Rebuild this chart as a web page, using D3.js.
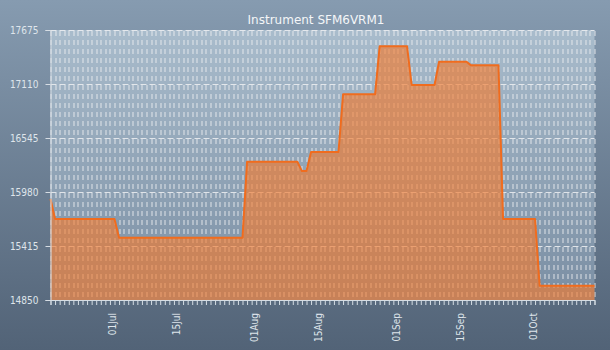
<!DOCTYPE html>
<html>
<head>
<meta charset="utf-8">
<script src="https://cdn.jsdelivr.net/npm/d3@7"></script>
<style>
  html, body { margin: 0; padding: 0; background: #6d8196; }
  svg { display: block; }
</style>
</head>
<body>
<svg id="chart" width="610" height="350"></svg>
<script>
// ---- data ----
const chartTitle = "Instrument SFM6VRM1";
const startDate = "2019-06-17";
const values = [
  15906,
  15697, 15697, 15697, 15697, 15697, 15697, 15697, 15697, 15697, 15697, 15697, 15697, 15697, 15697,
  15502, 15502, 15502, 15502, 15502, 15502, 15502, 15502, 15502, 15502, 15502, 15502, 15502, 15502,
  15502, 15502, 15502, 15502, 15502, 15502, 15502, 15502, 15502, 15502, 15502, 15502, 15502, 15502,
  16297, 16297, 16297, 16297, 16297, 16297, 16297, 16297, 16297, 16297, 16297, 16297,
  16199, 16199,
  16398, 16398, 16398, 16398, 16398, 16398, 16398,
  17002, 17002, 17002, 17002, 17002, 17002, 17002, 17002,
  17504, 17504, 17504, 17504, 17504, 17504, 17504,
  17100, 17100, 17100, 17100, 17100, 17100,
  17343, 17343, 17343, 17343, 17343, 17343, 17343,
  17305, 17305, 17305, 17305, 17305, 17305, 17305,
  15697, 15697, 15697, 15697, 15697, 15697, 15697, 15697,
  15000, 15000, 15000, 15000, 15000, 15000, 15000, 15000, 15000, 15000, 15000, 15000, 15000
];
const yTicks = [14850, 15415, 15980, 16545, 17110, 17675];
const xTickLabels = ["2019-07-01", "2019-07-15", "2019-08-01", "2019-08-15", "2019-09-01", "2019-09-15", "2019-10-01"];

// ---- build ----
const parse = d3.utcParse("%Y-%m-%d");
const start = d3.utcHour.offset(parse(startDate), 12);
const data = values.map((v, i) => ({ date: d3.utcDay.offset(start, i), value: v }));

const svg = d3.select("#chart");
const W = 610, H = 350;
const m = { left: 50.5, right: 15.5, top: 30, bottom: 50 };
const iw = W - m.left - m.right, ih = H - m.top - m.bottom;

const defs = svg.append("defs");
const bg = defs.append("linearGradient").attr("id", "bg").attr("x1", 0).attr("y1", 0).attr("x2", 0).attr("y2", 1);
bg.append("stop").attr("offset", "0%").attr("stop-color", "#869bb0");
bg.append("stop").attr("offset", "100%").attr("stop-color", "#526377");
const pbg = defs.append("linearGradient").attr("id", "pbg").attr("x1", 0).attr("y1", 0).attr("x2", 0).attr("y2", 1);
pbg.append("stop").attr("offset", "0%").attr("stop-color", "#a9bccc");
pbg.append("stop").attr("offset", "100%").attr("stop-color", "#7a8ea3");

svg.append("rect").attr("width", W).attr("height", H).attr("fill", "url(#bg)");

const x = d3.scaleUtc().domain(d3.extent(data, d => d.date)).range([0, iw]);
const y = d3.scaleLinear().domain([14850, 17675]).range([ih, 0]);

const g = svg.append("g").attr("transform", `translate(${m.left},${m.top})`);

g.append("rect").attr("x", 0).attr("y", 0).attr("width", iw).attr("height", ih).attr("fill", "url(#pbg)");

// vertical daily gridlines
g.append("g").selectAll("line").data(data).join("line")
  .attr("x1", d => Math.round(x(d.date)) + 0.5).attr("x2", d => Math.round(x(d.date)) + 0.5)
  .attr("y1", 0).attr("y2", ih)
  .attr("stroke", "#eef0f2").attr("stroke-opacity", 0.85).attr("stroke-width", 1)
  .attr("stroke-dasharray", "5,4").attr("stroke-dashoffset", -1);

// horizontal gridlines
g.append("g").selectAll("line").data(yTicks.slice(1)).join("line")
  .attr("x1", 0).attr("x2", iw)
  .attr("y1", d => Math.round(y(d)) + 0.5).attr("y2", d => Math.round(y(d)) + 0.5)
  .attr("stroke", "#eef0f2").attr("stroke-opacity", 0.85).attr("stroke-width", 1)
  .attr("stroke-dasharray", "6,3");

// area
const area = d3.area().x(d => x(d.date)).y0(ih).y1(d => y(d.value));
g.append("path").datum(data).attr("d", area).attr("fill", "#f27a2e").attr("fill-opacity", 0.64);
const line = d3.line().x(d => x(d.date)).y(d => y(d.value));
g.append("path").datum(data).attr("d", line).attr("fill", "none")
  .attr("stroke", "#f06c1e").attr("stroke-width", 2).attr("stroke-linejoin", "round");

const axisColor = "#d6dde4";
const fontTick = "'DejaVu Sans Condensed', 'Liberation Sans', sans-serif";

// y axis
const yAxis = g.append("g").call(d3.axisLeft(y).tickValues(yTicks).tickSize(5).tickPadding(7).tickFormat(d3.format("d")));
yAxis.select(".domain").attr("stroke", axisColor);
yAxis.selectAll(".tick line").attr("stroke", axisColor);
yAxis.selectAll("text").attr("fill", "#dfe5eb").style("font-family", fontTick).style("font-size", "10px");

// x axis day ticks
const xDays = g.append("g").attr("transform", `translate(0,${ih})`)
  .call(d3.axisBottom(x).tickValues(data.map(d => d.date)).tickSize(5).tickFormat(""));
xDays.select(".domain").attr("stroke", axisColor);
xDays.selectAll(".tick line").attr("stroke", axisColor);

// x labels
const fmt = d3.utcFormat("%d%b");
const xLab = g.append("g").attr("transform", `translate(0,${ih})`)
  .call(d3.axisBottom(x).tickValues(xTickLabels.map(parse)).tickSize(0).tickFormat(fmt));
xLab.select(".domain").remove();
xLab.selectAll("text")
  .attr("fill", "#dfe5eb").style("font-family", fontTick).style("font-size", "10px")
  .attr("text-anchor", "end").attr("transform", "rotate(-90)")
  .attr("x", -13).attr("y", 0).attr("dy", "0.35em");

// title
svg.append("text").attr("x", 316).attr("y", 24).attr("text-anchor", "middle")
  .attr("fill", "#f4f6f8").style("font-family", "'DejaVu Sans', sans-serif").style("font-size", "12px")
  .text(chartTitle);
</script>
</body>
</html>
